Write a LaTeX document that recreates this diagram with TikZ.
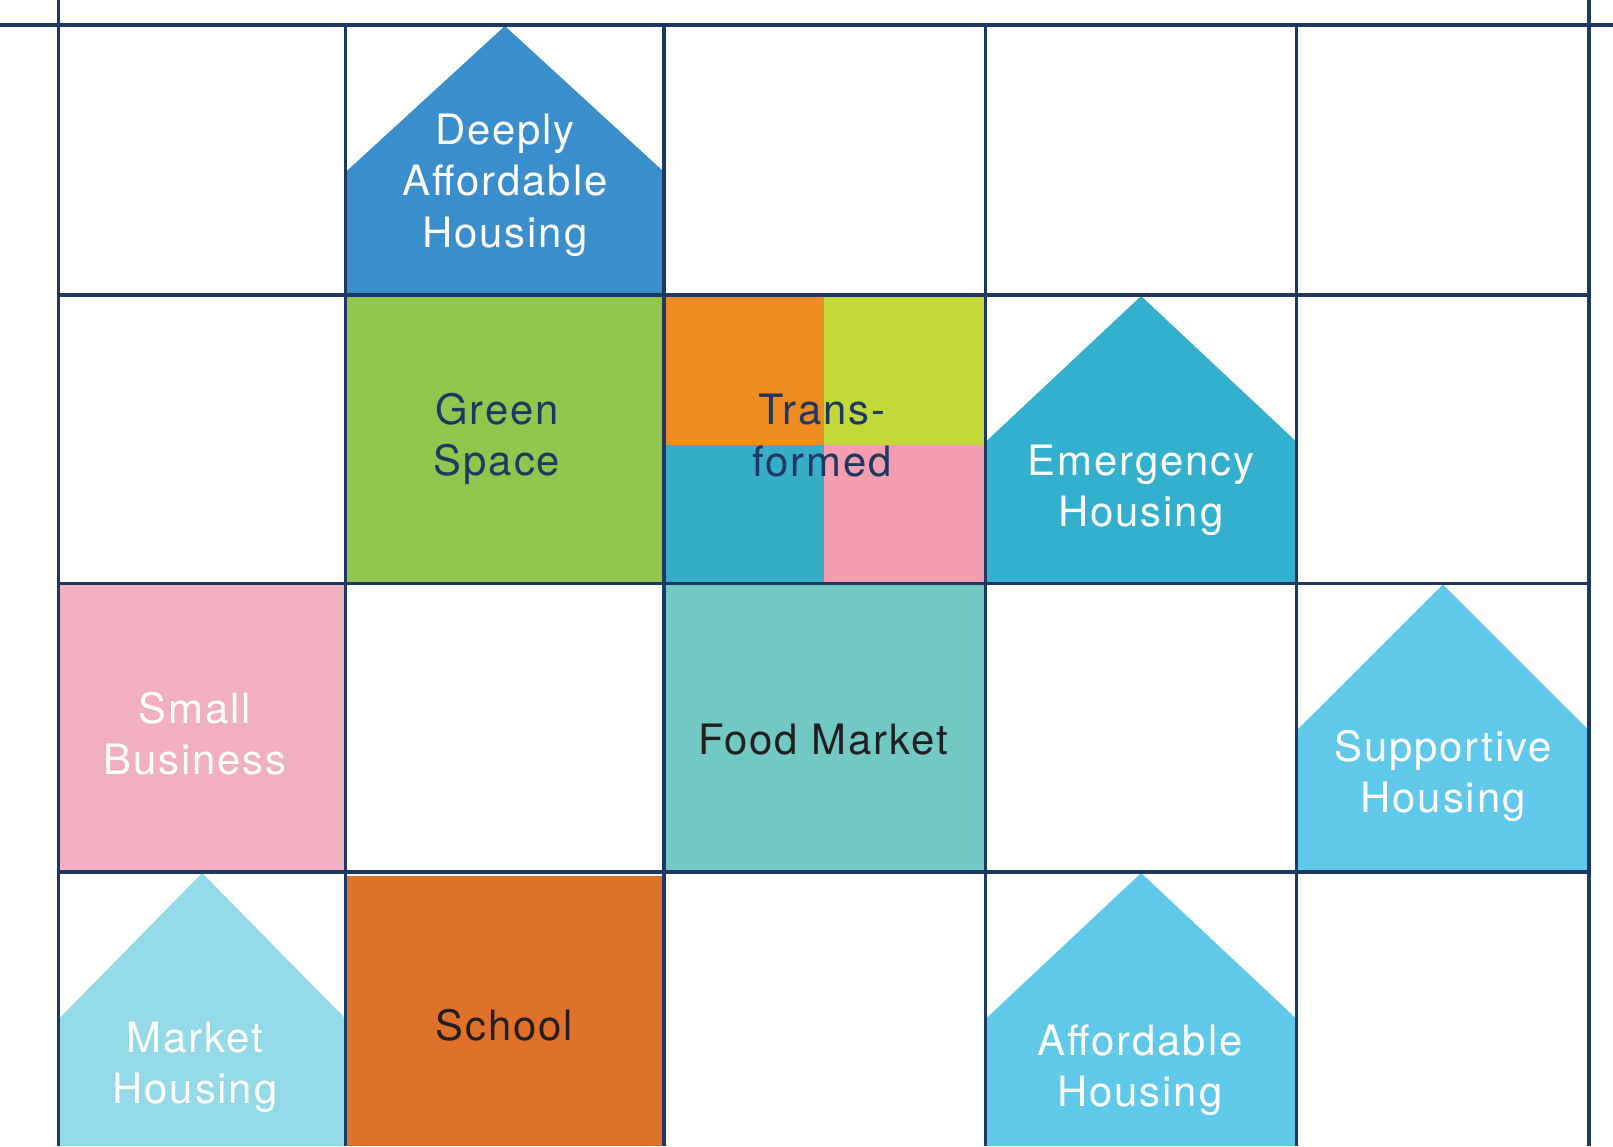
\documentclass[tikz,border=0pt]{standalone}
\usepackage{fontspec}
\setmainfont[LetterSpace=4.5]{TeX Gyre Heros}
\usepackage{xcolor}
\definecolor{gridclr} {RGB}{30,56,100}
\definecolor{inkclr}  {RGB}{35,31,32}
\definecolor{dahclr}  {RGB}{58,142,204}
\definecolor{greenclr}{RGB}{147,196,75}
\definecolor{tornclr} {RGB}{238,140,34}
\definecolor{tlimeclr}{RGB}{195,217,58}
\definecolor{ttealclr}{RGB}{54,174,200}
\definecolor{tpinkclr}{RGB}{244,158,175}
\definecolor{emclr}   {RGB}{50,176,206}
\definecolor{bizclr}  {RGB}{240,176,192}
\definecolor{foodclr} {RGB}{114,201,195}
\definecolor{ahclr}   {RGB}{96,200,232}
\definecolor{mktclr}  {RGB}{148,217,232}
\definecolor{schclr}  {RGB}{224,113,42}

% house: left, right, top, bottom, colour
\newcommand{\house}[5]{%
  \fill[#5] (#1,#3+147) -- ({(#1+#2)/2},#3+1) -- (#2,#3+147)
            -- (#2,#4) -- (#1,#4) -- cycle;}

\begin{document}
\begin{tikzpicture}[
    x=0.01cm, y=-0.01cm,
    font=\fontsize{11.9}{14.6}\selectfont,
    lbl/.style   ={align=center, inner sep=0pt, text=white},
    dklbl/.style ={lbl, text=gridclr},
    bklbl/.style ={lbl, text=inkclr},
    gridln/.style={draw=gridclr, line width=0.9pt},
]
\useasboundingbox (0,0) rectangle (1613,1146);

% =============== Row 1 ===============
\house{345.7}{664}{25}{293}{dahclr}

% =============== Row 2 ===============
\fill[greenclr] (345.7,295) rectangle (664,583.5);
\fill[tornclr]  (664,295)   rectangle (823.7,445);
\fill[tlimeclr] (823.7,295) rectangle (985.5,445);
\fill[ttealclr] (664,445)   rectangle (823.7,583.5);
\fill[tpinkclr] (823.7,445) rectangle (985.5,583.5);
\house{985.5}{1296.7}{295}{583.5}{emclr}

% =============== Row 3 ===============
\fill[bizclr]  (58.7,583.5) rectangle (345.7,872);
\fill[foodclr] (664,583.5)  rectangle (985.5,872);
\house{1296.7}{1589}{583.5}{872}{ahclr}

% =============== Row 4 ===============
\house{58.7}{345.7}{872}{1146}{mktclr}
\fill[schclr] (345.7,876) rectangle (664,1146);
\house{985.5}{1296.7}{872}{1146}{ahclr}

% =============== Grid ===============
\draw[gridln] (0,25) -- (1613,25);
\foreach \x in {58.7,1589}
  \draw[gridln] (\x,0) -- (\x,1146);
\foreach \x in {345.7,664,985.5,1296.7}
  \draw[gridln] (\x,25) -- (\x,1146);
\foreach \y in {295,583.5,872}
  \draw[gridln] (58.7,\y) -- (1589,\y);

% =============== Labels ===============
\node[lbl]   (dah)     at (505,185)    {Deeply\\Affordable\\Housing};
\node[dklbl] (green)   at (497,439)    {Green\\Space};
\node[dklbl] (trans)   at (822,435.5)  {Trans-\\formed};
\node[lbl]   (emerg)   at (1141,490)   {Emergency\\Housing};
\node[lbl]   (smallbiz) at (195,734)   {Small\\Business};
\node[bklbl, anchor=base] (food) at (823,754) {Food Market};
\node[lbl]   (support) at (1443,776)   {Supportive\\Housing};
\node[lbl]   (market)  at (195,1067)   {Market\\Housing};
\node[bklbl, anchor=base] (school) at (504.5,1040) {School};
\node[lbl]   (afford)  at (1140,1070)  {Affordable\\Housing};

\end{tikzpicture}
\end{document}
